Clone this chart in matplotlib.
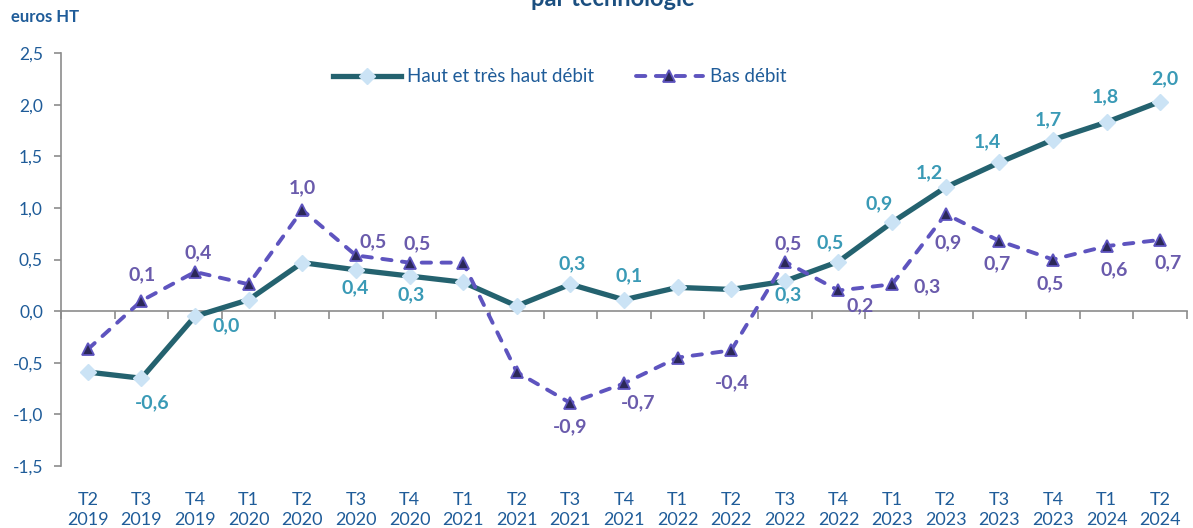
import numpy as np
import matplotlib.pyplot as plt

plt.rcParams['font.family'] = ['Lato', 'DejaVu Sans']

# trimestres
trimestres = ["T2\n2019", "T3\n2019", "T4\n2019", "T1\n2020", "T2\n2020", "T3\n2020", "T4\n2020",
              "T1\n2021", "T2\n2021", "T3\n2021", "T4\n2021", "T1\n2022", "T2\n2022", "T3\n2022",
              "T4\n2022", "T1\n2023", "T2\n2023", "T3\n2023", "T4\n2023", "T1\n2024", "T2\n2024"]

# Haut et très haut débit
haut = [-0.59, -0.65, -0.05, 0.11, 0.47, 0.40, 0.34, 0.28, 0.05, 0.26, 0.11,
        0.23, 0.21, 0.29, 0.48, 0.86, 1.20, 1.44, 1.66, 1.83, 2.03]
haut_txt = [None, "-0,6", "0,0", None, None, "0,4", "0,3", None, None, "0,3", "0,1",
            None, None, "0,3", "0,5", "0,9", "1,2", "1,4", "1,7", "1,8", "2,0"]

# Bas débit
bas = [-0.37, 0.10, 0.38, 0.26, 0.98, 0.54, 0.47, 0.47, -0.59, -0.89, -0.70,
       -0.45, -0.38, 0.48, 0.20, 0.26, 0.94, 0.68, 0.50, 0.63, 0.69]
bas_txt = [None, "0,1", "0,4", None, "1,0", "0,5", "0,5", None, None, "-0,9", "-0,7",
           None, "-0,4", "0,5", "0,2", "0,3", "0,9", "0,7", "0,5", "0,6", "0,7"]

# décalage des étiquettes (pixels)
haut_off = [None, (11, -25), (31, -9), None, None, (-1, -18), (2, -19), None, None, (2, 21), (5, 24),
            None, None, (3, -14), (-8, 19), (-13, 19), (-16, 14), (-12, 21), (-5, 20), (-1, 25), (5, 23)]
bas_off = [None, (1, 26), (3, 19), None, (0, 22), (17, 14), (8, 19), None, None, (0, -24), (14, -19),
           None, (1, -32), (3, 18), (22, -15), (35, -2), (2, -29), (-2, -23), (-3, -24), (8, -24), (8, -23)]

bleu = "#1F5C99"
teal = "#24626F"
violet = "#5E54BF"

fig = plt.figure(figsize=(11.93, 5.28), dpi=100)
ax = fig.add_axes([0.0511, 0.1174, 0.9439, 0.7822])

x = np.arange(len(trimestres))
ax.plot(x, haut, color=teal, lw=3.8, marker="D", ms=8, mfc="#CBE3F5", mec="#CBE3F5",
        label="Haut et très haut débit", zorder=3, solid_joinstyle="round")
ax.plot(x, bas, color=violet, lw=2.8, ls=(0, (2.4, 2.7)), marker="^", ms=8.5, mfc="#2B2858",
        mec=violet, mew=1.3, label="Bas débit", zorder=4, dash_capstyle="round")

for i in range(len(x)):
    if haut_txt[i]:
        ax.annotate(haut_txt[i], (x[i], haut[i]), xytext=haut_off[i], textcoords="offset pixels",
                    ha="center", va="center", fontsize=14, fontweight="bold", color="#3A9AB6")
    if bas_txt[i]:
        ax.annotate(bas_txt[i], (x[i], bas[i]), xytext=bas_off[i], textcoords="offset pixels",
                    ha="center", va="center", fontsize=14, fontweight="bold", color="#6A5BAC")

ax.set_xlim(-0.5, len(x) - 0.5)
ax.set_ylim(-1.5, 2.5)
ax.set_yticks(np.arange(-1.5, 2.51, 0.5))
ax.set_yticklabels([f"{v:.1f}".replace(".", ",") for v in np.arange(-1.5, 2.51, 0.5)])
ax.tick_params(axis="y", colors="#8C8C8C", labelcolor=bleu, labelsize=12.5, length=5, width=1.2, pad=8)

# axe horizontal au niveau 0
ax.spines["top"].set_visible(False)
ax.spines["right"].set_visible(False)
ax.spines["left"].set_color("#8C8C8C")
ax.spines["left"].set_linewidth(1.2)
ax.spines["bottom"].set_position(("data", 0))
ax.spines["bottom"].set_color("#8C8C8C")
ax.spines["bottom"].set_linewidth(1.2)
ax.set_xticks(np.arange(-0.5, len(x), 1.0))
ax.set_xticklabels([])
ax.tick_params(axis="x", colors="#8C8C8C", length=6, width=1.2, direction="out")

sec = ax.secondary_xaxis(0.0)
sec.set_xticks(x, trimestres)
sec.tick_params(length=0, pad=19, labelsize=13, labelcolor=bleu)
for t in sec.get_xticklabels():
    t.set_linespacing(1.3)
sec.spines["bottom"].set_visible(False)

ax.legend(loc="center", bbox_to_anchor=(0.443, 0.942), ncol=2, frameon=False, fontsize=13.5,
          labelcolor=bleu, handlelength=3.6, columnspacing=2.2, handletextpad=0.37)

fig.text(0.009, 0.968, "euros HT", fontsize=12, fontweight="bold", color=bleu, va="center")
fig.text(0.514, 1 - 6 / 528, "par technologie", fontsize=17, fontweight="bold", color="#1B4F80",
         ha="center", va="baseline")

fig.savefig("out.png", dpi=100)
